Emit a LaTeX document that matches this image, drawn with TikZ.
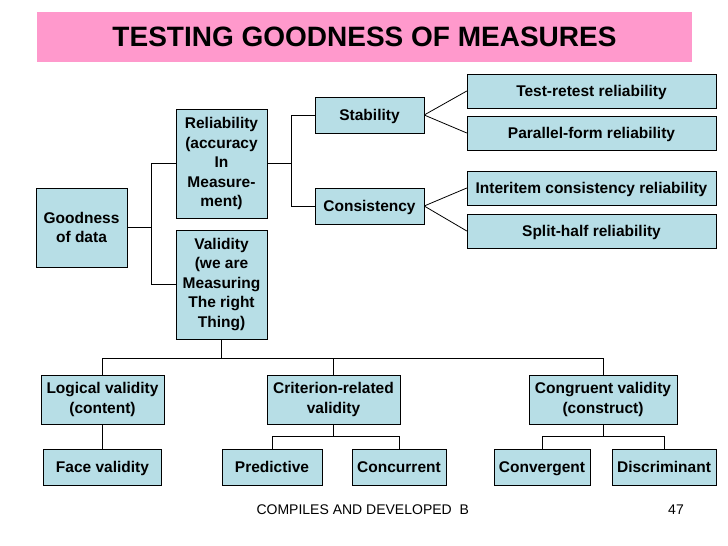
\documentclass[tikz,border=0pt]{standalone}
\usepackage{fontspec}
\setmainfont{Liberation Sans}
\definecolor{boxblue}{RGB}{183,222,230}
\definecolor{titlepink}{RGB}{255,153,204}
\begin{document}
\begin{tikzpicture}[x=1pt,y=-1pt,
  box/.style={draw,fill=boxblue,font=\bfseries\fontsize{15.5}{19.5}\selectfont,align=center,inner sep=0pt},
  onerow/.style={box,text height=13,text depth=2},
  link/.style={draw,line width=0.8pt}]
\useasboundingbox (0,0) rectangle (728,546);

% title
\node[fill=titlepink,minimum width=655,minimum height=50,font=\bfseries\fontsize{28}{32}\selectfont] (title) at (364.5,37) {TESTING GOODNESS OF MEASURES};

% left part
\node[box,minimum width=91,minimum height=79] (good) at (81.5,227.5) {Goodness\\of data};
\node[box,minimum width=91,minimum height=109] (rel) at (221.5,163.5) {Reliability\\(accuracy\\In\\Measure-\\ment)};
\node[box,minimum width=91,minimum height=109] (val) at (221.5,284.5) {Validity\\(we are\\Measuring\\The right\\Thing)};
\node[onerow,minimum width=109,minimum height=36] (stab) at (369.5,115) {Stability};
\node[onerow,minimum width=109,minimum height=36] (cons) at (369.5,206) {Consistency};

% right column
\node[onerow,minimum width=249,minimum height=34] (test) at (591.5,91) {Test-retest reliability};
\node[onerow,minimum width=249,minimum height=34] (para) at (591.5,133) {Parallel-form reliability};
\node[onerow,minimum width=249,minimum height=34] (inter) at (591.5,188) {Interitem consistency reliability};
\node[onerow,minimum width=249,minimum height=34] (split) at (591.5,231) {Split-half reliability};

% bottom rows
\node[box,minimum width=123,minimum height=49] (logic) at (102.5,399.5) {Logical validity\\(content)};
\node[box,minimum width=133,minimum height=49] (crit) at (333.5,399.5) {Criterion-related\\validity};
\node[box,minimum width=148,minimum height=49] (cong) at (603,399.5) {Congruent validity\\(construct)};
\node[onerow,minimum width=118,minimum height=36] (face) at (102.5,467) {Face validity};
\node[onerow,minimum width=100,minimum height=36] (pred) at (272,467) {Predictive};
\node[onerow,minimum width=94,minimum height=36] (conc) at (399,467) {Concurrent};
\node[onerow,minimum width=96,minimum height=36] (conv) at (542,467) {Convergent};
\node[onerow,minimum width=104,minimum height=36] (disc) at (664,467) {Discriminant};

% connectors
\draw[link] (good.east) -- ++(24,0) |- (rel.west);
\draw[link] (good.east) -- ++(24,0) |- (val.west);
\draw[link] (rel.east) -- ++(24,0) |- (stab.west);
\draw[link] (rel.east) -- ++(24,0) |- (cons.west);
\draw[link] (stab.east) -- (test.west);
\draw[link] (stab.east) -- (para.west);
\draw[link] (cons.east) -- (inter.west);
\draw[link] (cons.east) -- (split.west);

\coordinate (vbus) at (221.5,358);
\draw[link] (val.south) -- (vbus);
\draw[link] (logic.north |- vbus) -- (cong.north |- vbus);
\draw[link] (logic.north |- vbus) -- (logic.north);
\draw[link] (crit.north |- vbus) -- (crit.north);
\draw[link] (cong.north |- vbus) -- (cong.north);
\draw[link] (logic.south) -- (face.north);
\draw[link] (crit.south) -- ++(0,12) -| (pred.north);
\draw[link] (crit.south) -- ++(0,12) -| (conc.north);
\draw[link] (cong.south) -- ++(0,12) -| (conv.north);
\draw[link] (cong.south) -- ++(0,12) -| (disc.north);

% footer
\node[font=\fontsize{14}{16}\selectfont,anchor=west] (foot) at (253,510) {COMPILES AND DEVELOPED\ \ B};
\node[font=\fontsize{14}{16}\selectfont] (page) at (676,510) {47};
\end{tikzpicture}
\end{document}
